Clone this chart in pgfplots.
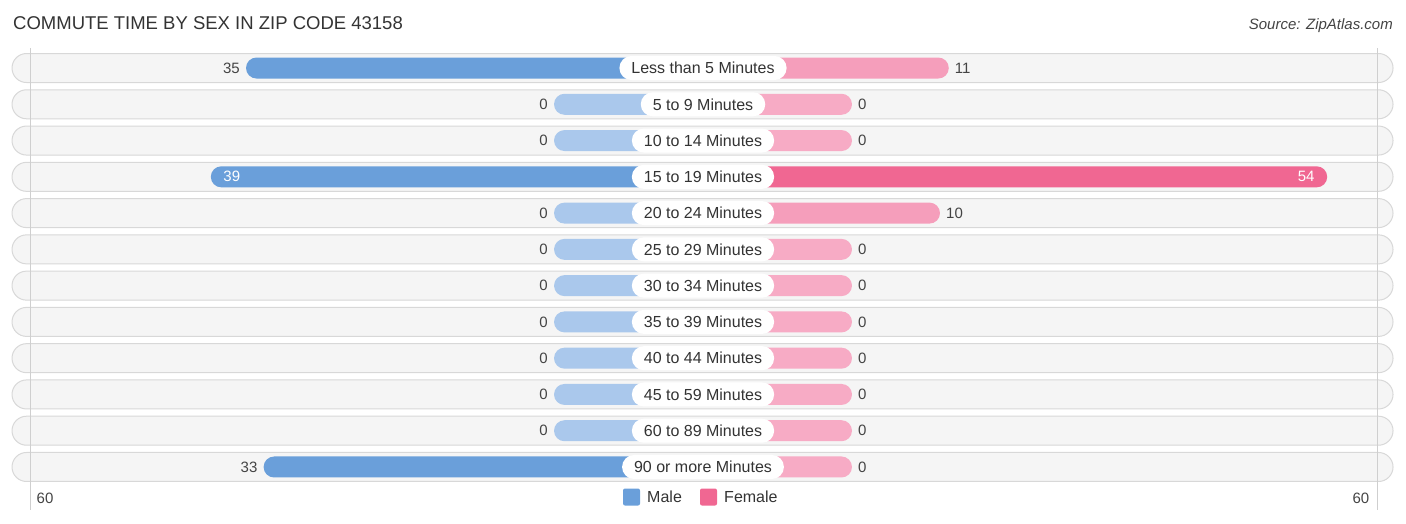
\documentclass[border=0pt]{standalone}
\usepackage{pgfplots}
\usepackage{pgfplotstable}
\pgfplotsset{compat=1.18}
\usepackage{fontspec}
\setmainfont{Liberation Sans}
\definecolor{maleS}{HTML}{6A9FDA}
\definecolor{maleL}{HTML}{AAC8EC}
\definecolor{femS}{HTML}{F06792}
\definecolor{femM}{HTML}{F59EBB}
\definecolor{femL}{HTML}{F7ABC5}
\definecolor{rowbg}{HTML}{F5F5F5}
\definecolor{rowln}{HTML}{D8D8D8}
\definecolor{gridc}{HTML}{CFCFCF}
\definecolor{txt}{HTML}{333333}
\definecolor{valc}{HTML}{444444}

\pgfplotstableread{
row male female
0 35 11
1 0 0
2 0 0
3 39 54
4 0 10
5 0 0
6 0 0
7 0 0
8 0 0
9 0 0
10 0 0
11 33 0
}\data

\pgfplotstableread[col sep=comma]{
row,label
0,Less than 5 Minutes
1,5 to 9 Minutes
2,10 to 14 Minutes
3,15 to 19 Minutes
4,20 to 24 Minutes
5,25 to 29 Minutes
6,30 to 34 Minutes
7,35 to 39 Minutes
8,40 to 44 Minutes
9,45 to 59 Minutes
10,60 to 89 Minutes
11,90 or more Minutes
}\cats

\begin{document}
\begin{tikzpicture}
\begin{axis}[
  width=1406pt, height=523pt, scale only axis,
  xmin=-79.886, xmax=79.886, ymin=-1.875, ymax=12.545,
  y dir=reverse, hide axis, clip=false,
  /pgf/number format/assume math mode=true,
]
% row backgrounds (with faint shadow)
\pgfplotsinvokeforeach{0,...,11}{
  \draw[fill=black!6, draw=none, rounded corners=14.5pt]
    (axis cs:-78.52,#1-0.4) ++(0pt,-1.2pt) rectangle (axis cs:78.41,#1+0.4);
  \draw[fill=rowbg, draw=rowln, line width=1pt, rounded corners=14.5pt]
    (axis cs:-78.52,#1-0.4) rectangle (axis cs:78.41,#1+0.4);
}
% gridlines at 60
\draw[gridc, line width=0.8pt] (axis cs:-76.48,-0.55) -- (axis cs:-76.48,12.19);
\draw[gridc, line width=0.8pt] (axis cs:76.59,-0.55) -- (axis cs:76.59,12.19);

% male bars
\addplot[xbar, bar width=21pt, bar shift=0pt, fill=maleS, draw=none, rounded corners=10.5pt,
  restrict x to domain=-200:-30]
  table[x expr=-(\thisrow{male}+16.93), y=row]{\data};
\addplot[xbar, bar width=21pt, bar shift=0pt, fill=maleL, draw=none, rounded corners=10.5pt,
  restrict x to domain=-30:0]
  table[x expr=-(\thisrow{male}+16.93), y=row]{\data};
% female bars
\addplot[xbar, bar width=21pt, bar shift=0pt, fill=femS, draw=none, rounded corners=10.5pt,
  restrict x to domain=50:200]
  table[x expr=\thisrow{female}+16.93, y=row]{\data};
\addplot[xbar, bar width=21pt, bar shift=0pt, fill=femM, draw=none, rounded corners=10.5pt,
  restrict x to domain=20:50]
  table[x expr=\thisrow{female}+16.93, y=row]{\data};
\addplot[xbar, bar width=21pt, bar shift=0pt, fill=femL, draw=none, rounded corners=10.5pt,
  restrict x to domain=0:20]
  table[x expr=\thisrow{female}+16.93, y=row]{\data};

% value labels outside
\addplot[only marks, mark=none, nodes near coords, point meta=\thisrow{male},
  nodes near coords align=horizontal,
  every node near coord/.append style={font=\fontsize{15}{18}\selectfont, text=valc, anchor=east, inner xsep=6pt},
  restrict x to domain=-54:0]
  table[x expr=-(\thisrow{male}+16.93), y=row]{\data};
\addplot[only marks, mark=none, nodes near coords, point meta=\thisrow{female},
  nodes near coords align=horizontal,
  every node near coord/.append style={font=\fontsize{15}{18}\selectfont, text=valc, anchor=west, inner xsep=6pt},
  restrict x to domain=0:60]
  table[x expr=\thisrow{female}+16.93, y=row]{\data};
% value labels inside
\addplot[only marks, mark=none, nodes near coords, point meta=\thisrow{male},
  nodes near coords align=horizontal,
  every node near coord/.append style={font=\fontsize{15}{18}\selectfont, text=white, anchor=center, xshift=21pt},
  restrict x to domain=-200:-54]
  table[x expr=-(\thisrow{male}+16.93), y=row]{\data};
\addplot[only marks, mark=none, nodes near coords, point meta=\thisrow{female},
  nodes near coords align=horizontal,
  every node near coord/.append style={font=\fontsize{15}{18}\selectfont, text=white, anchor=center, xshift=-21pt},
  restrict x to domain=60:200]
  table[x expr=\thisrow{female}+16.93, y=row]{\data};

% category labels
\addplot[only marks, mark=none, nodes near coords, point meta=explicit symbolic,
  every node near coord/.append style={font=\fontsize{16}{19}\selectfont, text=txt, fill=white,
    rounded corners=12pt, minimum height=24pt, inner xsep=12pt, anchor=center}]
  table[x expr=0, y=row, meta=label]{\cats};

% axis end labels
\node[font=\fontsize{15}{18}\selectfont, text=valc] at (axis cs:-74.77,11.855) {60};
\node[font=\fontsize{15}{18}\selectfont, text=valc] at (axis cs:74.77,11.855) {60};

% legend
\fill[maleS, rounded corners=2pt] (axis cs:-9.09,11.594) rectangle (axis cs:-7.16,12.063);
\node[anchor=west, inner sep=0pt, font=\fontsize{16}{19}\selectfont, text=txt] at (axis cs:-6.36,11.83) {Male};
\fill[femS, rounded corners=2pt] (axis cs:-0.34,11.594) rectangle (axis cs:1.59,12.063);
\node[anchor=west, inner sep=0pt, font=\fontsize{16}{19}\selectfont, text=txt] at (axis cs:2.39,11.83) {Female};

% title and source
\node[anchor=base west, inner sep=0pt, font=\fontsize{18.5}{22}\selectfont, text=txt] at (axis cs:-78.41,-1.075) {COMMUTE TIME BY SEX IN ZIP CODE 43158};
\node[anchor=base east, inner sep=0pt, font=\fontsize{15}{18}\selectfont\itshape, text=valc] at (axis cs:78.41,-1.05) {Source: ZipAtlas.com};
\end{axis}
\pgfresetboundingbox
\path (current axis.south west) rectangle (current axis.north east);
\end{tikzpicture}
\end{document}
